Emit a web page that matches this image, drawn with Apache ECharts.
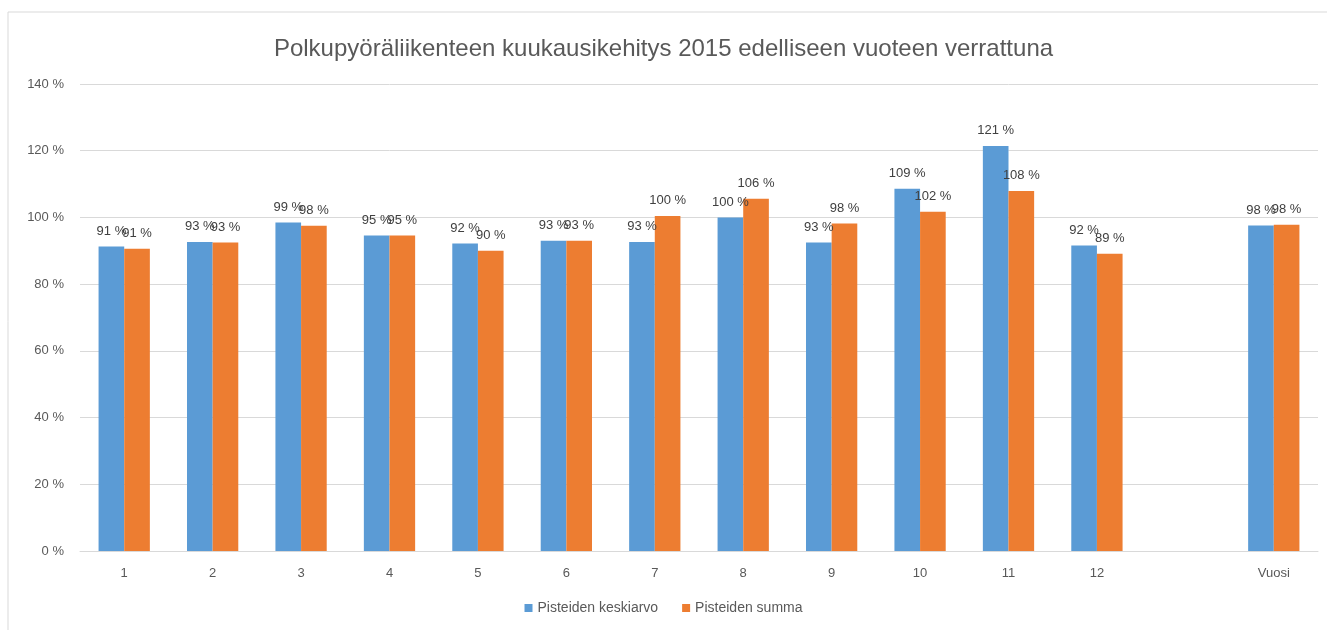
<!DOCTYPE html>
<html>
<head>
<meta charset="utf-8">
<script src="https://cdn.jsdelivr.net/npm/echarts@6/dist/echarts.min.js"></script>
<style>
  html, body { margin: 0; padding: 0; background: #fff; }
  #main { width: 1327px; height: 630px; }
</style>
</head>
<body>
<div id="main"></div>
<script>
// kuukaudet + tyhjä väli + vuosi
const months = ['1', '2', '3', '4', '5', '6', '7', '8', '9', '10', '11', '12', '', 'Vuosi']
const keskiarvo = [91.3, 92.6, 98.5, 94.6, 92.2, 93.0, 92.6, 100.0, 92.5, 108.6, 121.4, 91.6, null, 97.6]
const summa = [90.6, 92.5, 97.5, 94.6, 90.0, 93.0, 100.4, 105.6, 98.2, 101.7, 107.9, 89.1, null, 97.8]
const yTicks = [0, 20, 40, 60, 80, 100, 120, 140]

const font = 'Liberation Sans'
const txt = '#595959'

var myChart = echarts.init(document.getElementById('main'))

const barLabel = {
    show: true,
    position: 'top',
    distance: 9,
    color: '#404040',
    fontFamily: font,
    fontSize: 13,
    formatter: p => Math.round(p.value) + ' %'
}

var option = {
    animation: false,
    title: {
        text: 'Polkupyöräliikenteen kuukausikehitys 2015 edelliseen vuoteen verrattuna',
        left: 'center',
        top: 32,
        textStyle: { color: txt, fontFamily: font, fontSize: 24, fontWeight: 'normal' }
    },
    graphic: [{
        type: 'rect',
        shape: { x: 8, y: 12, width: 1340, height: 640 },
        style: { fill: 'none', stroke: '#d9d9d9', lineWidth: 1 },
        silent: true
    }],
    legend: {
        bottom: 10,
        left: 'center',
        itemWidth: 8,
        itemHeight: 8,
        itemGap: 24,
        icon: 'rect',
        textStyle: { color: txt, fontFamily: font, fontSize: 14 },
        data: ['Pisteiden keskiarvo', 'Pisteiden summa']
    },
    grid: { left: 80, right: 9, top: 84, bottom: 79 },
    xAxis: {
        type: 'category',
        data: months,
        axisLine: { lineStyle: { color: '#d9d9d9' } },
        axisTick: { show: false },
        axisLabel: { color: txt, fontFamily: font, fontSize: 13, margin: 16 }
    },
    yAxis: {
        type: 'value',
        min: yTicks[0],
        max: yTicks[yTicks.length - 1],
        interval: 20,
        axisLine: { show: false },
        axisTick: { show: false },
        splitLine: { lineStyle: { color: '#d9d9d9' } },
        axisLabel: { color: txt, fontFamily: font, fontSize: 13, margin: 16, formatter: v => v + ' %' }
    },
    series: [
        {
            name: 'Pisteiden keskiarvo',
            type: 'bar',
            data: keskiarvo,
            barGap: '0%',
            barCategoryGap: '42%',
            itemStyle: { color: '#5b9bd5' },
            label: barLabel
        },
        {
            name: 'Pisteiden summa',
            type: 'bar',
            data: summa,
            itemStyle: { color: '#ed7d31' },
            label: barLabel
        }
    ]
}

myChart.setOption(option)
</script>
</body>
</html>
